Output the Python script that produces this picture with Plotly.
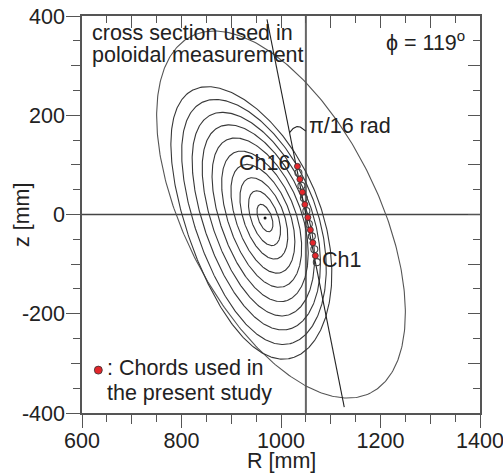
import numpy as np
import plotly.graph_objects as go

# ---------------- data ----------------
# nested flux-surface contours (inner family), approx. tilted ellipses
surf_R0 = [967.6, 966.4, 964.4, 961.6, 958.0, 953.6, 948.4, 942.4, 935.6, 928.0]
surf_z0 = [-7.1, -7.4, -7.9, -8.6, -9.5, -10.6, -11.9, -13.4, -15.1, -17.0]
surf_a = [29, 58, 86, 115, 144, 173, 202, 230, 259, 288]
surf_b = [13.5, 27, 40.5, 54, 67.5, 81, 94.5, 108, 121.5, 135]
surf_bend = [0.2, 0.8, 1.8, 3.2, 5.0, 7.2, 9.8, 12.8, 16.2, 20.0]
surf_tilt_deg = -70.0

# outermost closed contour
outer_R0, outer_z0, outer_a, outer_b, outer_tilt_deg = 1000.0, 0.0, 402.0, 194.0, -63.4

# magnetic axis
axis_R, axis_z = [968.0], [-7.0]

# chord positions Ch1 ... Ch16
chord_ch = list(range(1, 17))
chord_R = [1072, 1069, 1067, 1064, 1062, 1059, 1056, 1054, 1051, 1048, 1046, 1043, 1041, 1038, 1035, 1033]
chord_z = [-96, -83, -70, -57, -44, -31, -19, -6, 7, 20, 33, 45, 58, 71, 84, 97]
chord_used = [False, True] * 8

# reference lines
R_ref = 1050.0           # vertical line
los_angle = np.pi / 16   # sight-line angle from vertical
los_z = [393.0, -388.0]

x_ticks_major = [600, 800, 1000, 1200, 1400]
x_tick_text = ["600", "800", "1000", "1200", "1400"]
y_ticks_major = [-400, -200, 0, 200, 400]
y_tick_text = ["-400", "-200", "0", "200", "400"]
x_ticks_mid = [700, 900, 1100, 1300]
y_ticks_mid = [-300, -100, 100, 300]

FONT = "Liberation Sans, Arial, sans-serif"
FS = 21.5


def surface(R0, z0, a, b, tilt_deg, bend=0.0, n=400):
    t = np.linspace(0, 2 * np.pi, n)
    th = np.radians(tilt_deg)
    u = a * np.cos(t)
    v = b * np.sin(t)
    R = R0 + u * np.cos(th) - v * np.sin(th) + bend * np.sin(t) ** 2
    z = z0 + u * np.sin(th) + v * np.cos(th)
    return R, z


fig = go.Figure()

# outer contour
R, z = surface(outer_R0, outer_z0, outer_a, outer_b, outer_tilt_deg)
fig.add_trace(go.Scatter(x=R, y=z, mode="lines", line=dict(color="#555", width=1.1),
                         showlegend=False, hoverinfo="skip"))

# inner family
for R0, z0, a, b, bd in zip(surf_R0, surf_z0, surf_a, surf_b, surf_bend):
    R, z = surface(R0, z0, a, b, surf_tilt_deg, bd)
    fig.add_trace(go.Scatter(x=R, y=z, mode="lines", line=dict(color="#383838", width=1.1),
                             showlegend=False, hoverinfo="skip"))

# magnetic axis dot
fig.add_trace(go.Scatter(x=axis_R, y=axis_z, mode="markers",
                         marker=dict(color="#111", size=3), showlegend=False, hoverinfo="skip"))

# sight line
los_R = [R_ref - np.tan(los_angle) * zz for zz in los_z]
fig.add_trace(go.Scatter(x=los_R, y=los_z, mode="lines", line=dict(color="#222", width=1.1),
                         showlegend=False, hoverinfo="skip"))

# angle bracket
phi = np.linspace(0, los_angle, 40)
r_br = 168 + 10 * np.sin(np.pi * phi / los_angle)
fig.add_trace(go.Scatter(x=R_ref - r_br * np.sin(phi), y=r_br * np.cos(phi), mode="lines",
                         line=dict(color="#222", width=1.1), showlegend=False, hoverinfo="skip"))

# chords
oR = [r for r, u in zip(chord_R, chord_used) if not u]
oz = [q for q, u in zip(chord_z, chord_used) if not u]
uR = [r for r, u in zip(chord_R, chord_used) if u]
uz = [q for q, u in zip(chord_z, chord_used) if u]
fig.add_trace(go.Scatter(x=oR, y=oz, mode="markers",
                         marker=dict(symbol="circle-open", size=7, color="#444", line=dict(width=1.1)),
                         showlegend=False, hoverinfo="skip"))
fig.add_trace(go.Scatter(x=uR, y=uz, mode="markers",
                         marker=dict(symbol="circle", size=6, color="#e3262b", line=dict(color="#333", width=0.8)),
                         showlegend=False, hoverinfo="skip"))

# dummy traces for mirror axes
for k in (2, 3):
    fig.add_trace(go.Scatter(x=[600], y=[-400], xaxis=f"x{k}", yaxis=f"y{k}", mode="markers",
                             marker=dict(size=1, opacity=0), showlegend=False, hoverinfo="skip"))

fig.add_vline(x=R_ref, line=dict(color="#666", width=2), layer="below")
fig.add_hline(y=0, line=dict(color="#444", width=1.3), layer="below")

axcol = "#555"
common = dict(showgrid=False, zeroline=False, fixedrange=True, automargin=False)
fig.update_layout(
    width=503, height=473,
    margin=dict(l=82, r=23, t=16, b=60),
    plot_bgcolor="white", paper_bgcolor="white",
    font=dict(family=FONT, size=FS, color="#222"),
    xaxis=dict(range=[600, 1400], tickvals=x_ticks_major, ticktext=x_tick_text, ticks="outside", ticklen=13,
               tickcolor=axcol, tickwidth=1.2, showline=True, linecolor=axcol, linewidth=1.5,
               tickfont=dict(size=FS, color="#222"), ticklabelstandoff=-6, ticklabeloverflow="allow",
               minor=dict(dtick=50, tick0=600, ticks="outside", ticklen=7, tickcolor=axcol, tickwidth=1.2),
               **common),
    yaxis=dict(range=[-400, 400], tickvals=y_ticks_major, ticktext=y_tick_text, ticks="outside", ticklen=14,
               tickcolor=axcol, tickwidth=1.2, showline=True, linecolor=axcol, linewidth=1.5,
               tickfont=dict(size=FS, color="#222"), ticklabelstandoff=-3, ticklabeloverflow="allow",
               minor=dict(dtick=50, tick0=-400, ticks="outside", ticklen=7, tickcolor=axcol, tickwidth=1.2),
               **common),
    xaxis2=dict(range=[600, 1400], overlaying="x", side="top", anchor="y2", dtick=100, tick0=600,
                ticks="inside", ticklen=12, tickcolor=axcol, tickwidth=1.2, showticklabels=False,
                showline=True, linecolor=axcol, linewidth=1.5,
                minor=dict(dtick=50, tick0=600, ticks="inside", ticklen=7, tickcolor=axcol, tickwidth=1.2),
                **common),
    yaxis2=dict(range=[-400, 400], overlaying="y", side="right", anchor="x2", dtick=100, tick0=-400,
                ticks="inside", ticklen=12, tickcolor=axcol, tickwidth=1.2, showticklabels=False,
                showline=True, linecolor=axcol, linewidth=1.5,
                minor=dict(dtick=50, tick0=-400, ticks="inside", ticklen=7, tickcolor=axcol, tickwidth=1.2),
                **common),
    xaxis3=dict(range=[600, 1400], overlaying="x", side="bottom", anchor="y3", tickvals=x_ticks_mid,
                ticks="outside", ticklen=10, tickcolor=axcol, tickwidth=1.2, showticklabels=False,
                showline=False, **common),
    yaxis3=dict(range=[-400, 400], overlaying="y", side="left", anchor="x3", tickvals=y_ticks_mid,
                ticks="outside", ticklen=10, tickcolor=axcol, tickwidth=1.2, showticklabels=False,
                showline=False, **common),
)


def ann(text, x, y, xanchor="left", **kw):
    fig.add_annotation(text=text, x=x, y=y, xref="paper", yref="paper", xanchor=xanchor,
                       yanchor="middle", showarrow=False, font=dict(family=FONT, size=FS, color="#222"), **kw)


ann("cross section used in", 0.020, 0.956)
ann("poloidal measurement", 0.020, 0.902)
ann("ϕ = 119<sup>o</sup>", 0.967, 0.938, xanchor="right")
ann("π/16 rad", 0.566, 0.724)
ann("Ch16", 0.528, 0.630, xanchor="right")
ann("Ch1", 0.598, 0.385)
ann(": Chords used in", 0.058, 0.113)
ann("the present study", 0.058, 0.050)
ann("R [mm]", 0.5025, -0.121, xanchor="center")
ann("z [mm]", -0.152, 0.5, xanchor="center", textangle=-90)

# legend dot
fig.add_shape(type="circle", xref="paper", yref="paper", xsizemode="pixel", ysizemode="pixel",
              xanchor=0.041, yanchor=0.108, x0=-4, x1=4, y0=-4, y1=4,
              fillcolor="#e3262b", line=dict(color="#333", width=0.8))

fig.write_html("out.html", config={"displayModeBar": False},
               post_script="document.body.style.margin='0px';document.body.style.overflow='hidden';")
